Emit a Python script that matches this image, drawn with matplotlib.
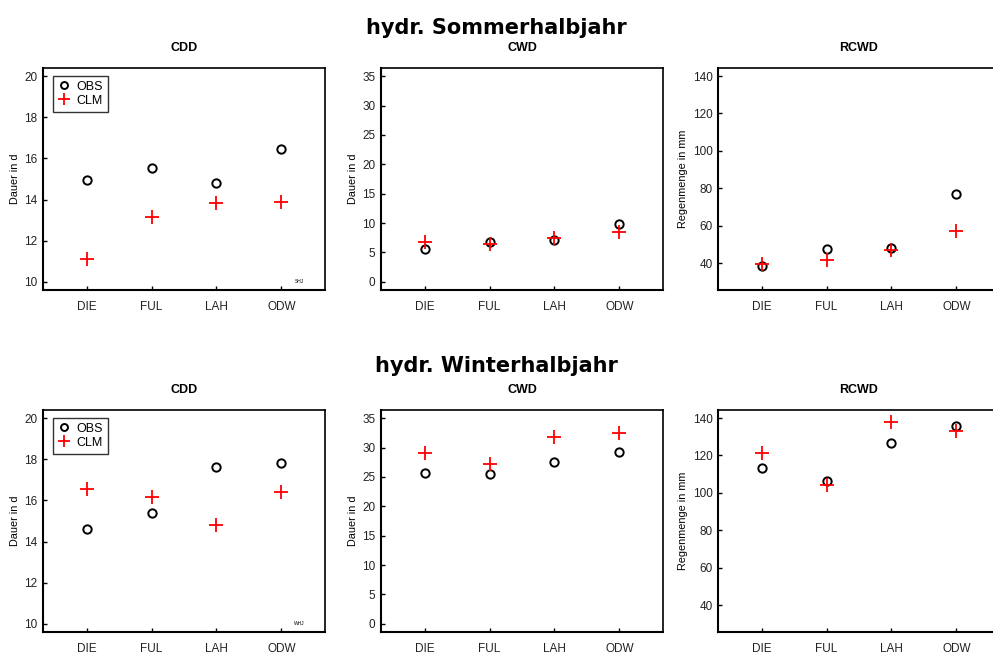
import matplotlib
matplotlib.use("Agg")
import matplotlib.pyplot as plt

stations = ["DIE", "FUL", "LAH", "ODW"]

# Sommerhalbjahr
shj_cdd_obs = [14.94, 15.52, 14.79, 16.46]
shj_cdd_clm = [11.12, 13.17, 13.82, 13.88]
shj_cwd_obs = [5.65, 6.84, 7.12, 9.78]
shj_cwd_clm = [6.78, 6.44, 7.40, 8.42]
shj_rcwd_obs = [38.6, 47.5, 47.8, 76.7]
shj_rcwd_clm = [39.6, 41.6, 47.1, 57.4]

# Winterhalbjahr
whj_cdd_obs = [14.59, 15.41, 17.62, 17.80]
whj_cdd_clm = [16.56, 16.16, 14.80, 16.39]
whj_cwd_obs = [25.63, 25.45, 27.50, 29.32]
whj_cwd_clm = [29.09, 27.27, 31.88, 32.56]
whj_rcwd_obs = [113.4, 106.3, 126.4, 135.5]
whj_rcwd_clm = [121.5, 104.2, 137.9, 132.9]

titles = ["CDD", "CWD", "RCWD"]
ylabels = ["Dauer in d", "Dauer in d", "Regenmenge in mm"]
ylims = [(9.6, 20.4), (-1.4, 36.4), (25.6, 144.3)]
yticks = [[10, 12, 14, 16, 18, 20], [0, 5, 10, 15, 20, 25, 30, 35], [40, 60, 80, 100, 120, 140]]

rows = [
    ("hydr. Sommerhalbjahr", "SHJ",
     [(shj_cdd_obs, shj_cdd_clm), (shj_cwd_obs, shj_cwd_clm), (shj_rcwd_obs, shj_rcwd_clm)]),
    ("hydr. Winterhalbjahr", "WHJ",
     [(whj_cdd_obs, whj_cdd_clm), (whj_cwd_obs, whj_cwd_clm), (whj_rcwd_obs, whj_rcwd_clm)]),
]

W, H = 993, 654
fig = plt.figure(figsize=(W / 100, H / 100), dpi=100)

col_x = [43, 381, 718]
col_w = 282
row_top = [68, 410]
ax_h = 222
suptitle_y = [28, 366]

afont = "Liberation Sans"
x = list(range(1, len(stations) + 1))

for r, (rtitle, tag, panels) in enumerate(rows):
    fig.text(0.5, 1 - suptitle_y[r] / H, rtitle, ha="center", va="center",
             fontsize=15, fontweight="bold", family="DejaVu Sans")
    for c, (obs, clm) in enumerate(panels):
        ax = fig.add_axes([col_x[c] / W, 1 - (row_top[r] + ax_h) / H, col_w / W, ax_h / H])
        ax.plot(x, obs, linestyle="none", marker="o", markersize=6, markerfacecolor="none",
                markeredgecolor="black", markeredgewidth=1.4, label="OBS", clip_on=False)
        ax.plot(x, clm, linestyle="none", marker="+", markersize=10, color="red",
                markeredgewidth=1.3, label="CLM", clip_on=False)
        ax.set_xlim(0.33, 4.67)
        ax.set_ylim(*ylims[c])
        ax.set_yticks(yticks[c])
        ax.set_xticks(x)
        ax.set_xticklabels(stations)
        ax.tick_params(direction="in", length=3, width=1, labelsize=8.5, pad=4)
        ax.tick_params(axis="x", pad=8)
        for lab in ax.get_xticklabels() + ax.get_yticklabels():
            lab.set_family(afont)
            lab.set_color("#222222")
        for s in ["left", "bottom"]:
            ax.spines[s].set_linewidth(1.5)
        for s in ["top", "right"]:
            ax.spines[s].set_linewidth(1.2)
        ax.set_title(titles[c], fontsize=9, fontweight="bold", family=afont, pad=12)
        ax.set_ylabel(ylabels[c], fontsize=7.8, family=afont, labelpad=3)
        if c == 0:
            leg = ax.legend(loc="upper left", frameon=True, fancybox=False,
                            prop={"family": afont, "size": 9}, handletextpad=0.5,
                            handlelength=1.0, borderpad=0.4, labelspacing=0.15,
                            bbox_to_anchor=(0.035, 0.965), borderaxespad=0.0)
            leg.get_frame().set_edgecolor("black")
            leg.get_frame().set_linewidth(1.0)
            for h in leg.legend_handles:
                h.set_markersize(5 if h.get_marker() == "o" else 8)
            ax.text(0.91, 0.04, tag, transform=ax.transAxes, fontsize=3.5,
                    family=afont, ha="center", va="center")

fig.savefig("out.png", dpi=100)
